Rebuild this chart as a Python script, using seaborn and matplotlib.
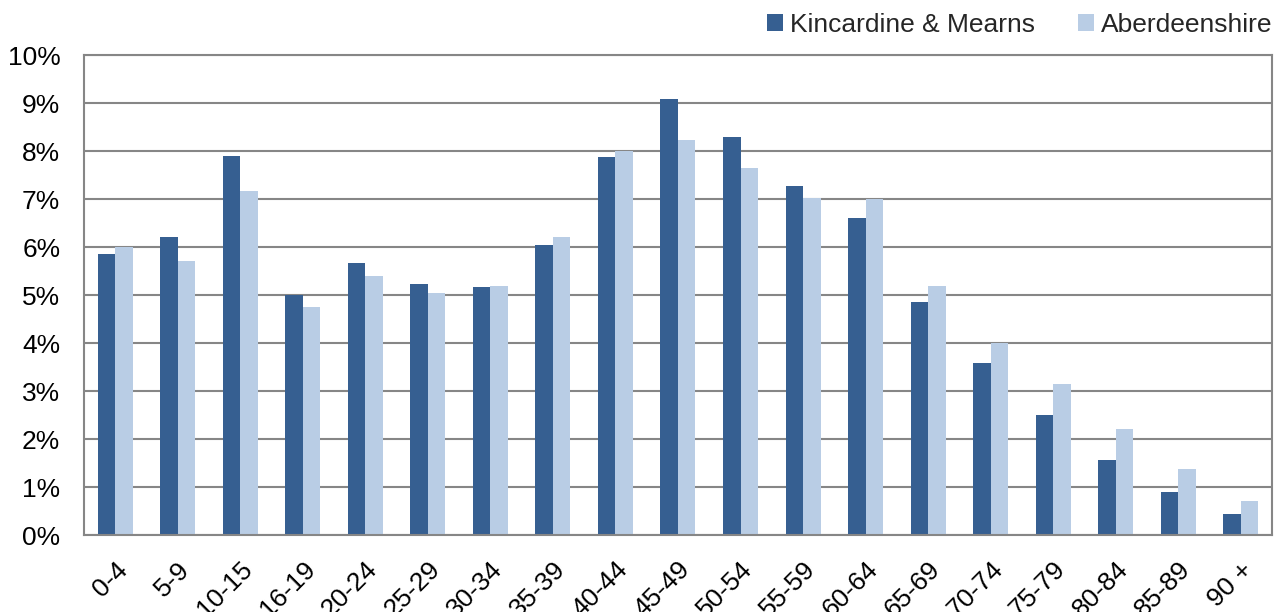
import matplotlib
matplotlib.use("Agg")
import matplotlib.pyplot as plt
import matplotlib.ticker as mticker
import pandas as pd
import seaborn as sns

DARK_BLUE = "#365F91"
LIGHT_BLUE = "#B9CDE5"
GRID_COLOR = "#868686"

age_bands = ["0-4", "5-9", "10-15", "16-19", "20-24", "25-29", "30-34", "35-39",
             "40-44", "45-49", "50-54", "55-59", "60-64", "65-69", "70-74",
             "75-79", "80-84", "85-89", "90 +"]
kincardine = [5.85, 6.20, 7.90, 4.99, 5.66, 5.22, 5.16, 6.04, 7.88, 9.09,
              8.30, 7.28, 6.60, 4.86, 3.58, 2.51, 1.56, 0.90, 0.43]
aberdeenshire = [5.99, 5.71, 7.17, 4.76, 5.40, 5.05, 5.19, 6.20, 8.01, 8.22,
                 7.65, 7.03, 7.00, 5.19, 3.99, 3.15, 2.20, 1.37, 0.71]
series_names = ["Kincardine & Mearns", "Aberdeenshire"]

df = pd.DataFrame({
    "age": age_bands * 2,
    "share": kincardine + aberdeenshire,
    "area": [series_names[0]] * len(age_bands) + [series_names[1]] * len(age_bands),
})

sns.set_theme(style="white")
plt.rcParams["font.family"] = ["Liberation Sans", "DejaVu Sans"]

fig = plt.figure(figsize=(12.78, 6.12), dpi=100)
ax = fig.add_axes([0.0657, 0.1258, 0.9296, 0.7843])

sns.barplot(data=df, x="age", y="share", hue="area", order=age_bands,
            hue_order=series_names, palette=[DARK_BLUE, LIGHT_BLUE],
            saturation=1, width=0.56, linewidth=0, ax=ax)

ax.set_ylim(0, 10)
ax.set_xlim(-0.5, len(age_bands) - 0.5)
ax.yaxis.set_major_locator(mticker.MultipleLocator(1))
ax.yaxis.set_major_formatter(mticker.PercentFormatter(decimals=0))
ax.grid(axis="y", color=GRID_COLOR, linewidth=1.5)
ax.set_axisbelow(True)
for side in ax.spines.values():
    side.set_color(GRID_COLOR)
    side.set_linewidth(1.5)

ax.set_xlabel("")
ax.set_ylabel("")
ax.tick_params(axis="both", length=0, labelsize=19, colors="black")
ax.tick_params(axis="y", pad=17)
ax.tick_params(axis="x", pad=16)
plt.setp(ax.get_xticklabels(), rotation=45, ha="right", rotation_mode="anchor")

ax.legend(loc="center right", bbox_to_anchor=(1.0, 1.0625), ncol=2,
          frameon=False, fontsize=19, handlelength=0.6, handleheight=0.6,
          handletextpad=0.25, columnspacing=1.65, borderaxespad=0, borderpad=0)

fig.savefig("out.png", dpi=100)
plt.close(fig)
